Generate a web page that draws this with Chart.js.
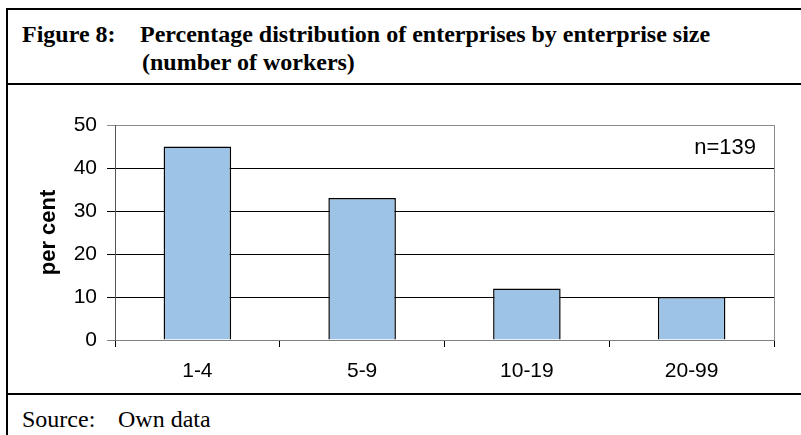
<!DOCTYPE html>
<html>
<head>
<meta charset="utf-8">
<script src="https://cdn.jsdelivr.net/npm/chart.js@4"></script>
<style>
  body { margin: 0; background: #fff; width: 801px; height: 435px; overflow: hidden; position: relative; }
  .rule { position: absolute; background: #000; }
  .serif { position: absolute; font-family: "Liberation Serif", "Times New Roman", serif; font-size: 24px; line-height: 30px; color: #000; white-space: nowrap; }
  .bold { font-weight: bold; }
  #chartBox { position: absolute; left: 8px; top: 85px; width: 793px; height: 308px; }
</style>
</head>
<body>
<div class="rule" style="left:6px;top:8px;width:795px;height:2px"></div>
<div class="rule" style="left:6px;top:8px;width:2px;height:427px"></div>
<div class="rule" style="left:6px;top:83px;width:795px;height:2px"></div>
<div class="rule" style="left:6px;top:393px;width:795px;height:2px"></div>

<div class="serif bold" style="left:22px;top:19px">Figure 8:</div>
<div class="serif bold" style="left:140px;top:19px">Percentage distribution of enterprises by enterprise size</div>
<div class="serif bold" style="left:142px;top:47px">(number of workers)</div>

<div class="serif" style="left:22px;top:404px">Source:</div>
<div class="serif" style="left:118px;top:404px">Own data</div>

<div id="chartBox"><canvas id="sizeChart" width="793" height="308"></canvas></div>

<script>
const categories = ['1-4', '5-9', '10-19', '20-99'];
const shares = [45, 33, 12, 10];
const yMax = 50;
const yStep = 10;
const sampleNote = 'n=139';

const sans = 'Liberation Sans, Arial, sans-serif';

// gray plot-area edge on the right, plus the sample size note
const frameAndNote = {
    id: 'frameAndNote',
    afterDraw(chart) {
        const { ctx, chartArea } = chart;
        ctx.save();
        ctx.strokeStyle = '#8c8c8c';
        ctx.lineWidth = 1;
        ctx.beginPath();
        ctx.moveTo(Math.round(chartArea.right) + 0.5, chartArea.top);
        ctx.lineTo(Math.round(chartArea.right) + 0.5, chartArea.bottom);
        ctx.stroke();
        ctx.fillStyle = '#000';
        ctx.font = '22px ' + sans;
        ctx.textAlign = 'right';
        ctx.textBaseline = 'middle';
        ctx.fillText(sampleNote, chartArea.right - 18, chartArea.top + 23);
        ctx.restore();
    }
};

const sizeCtx = document.getElementById('sizeChart').getContext('2d');
const sizeChart = new Chart(sizeCtx, {
    type: 'bar',
    data: {
        labels: categories,
        datasets: [{
            data: shares,
            backgroundColor: '#9dc3e6',
            borderColor: '#000',
            borderWidth: 1.5,
            barPercentage: 0.41,
            categoryPercentage: 1
        }]
    },
    options: {
        responsive: false,
        animation: false,
        layout: { padding: { left: 0, top: 40, right: 27, bottom: 0 } },
        plugins: {
            legend: { display: false },
            tooltip: { enabled: false }
        },
        scales: {
            x: {
                grid: { drawOnChartArea: false, drawTicks: true, tickLength: 7, color: '#000', offset: true },
                border: { color: '#808080', width: 1 },
                ticks: { color: '#000', font: { family: sans, size: 21 }, padding: 12 },
                afterFit: s => { s.height = 53; }
            },
            y: {
                min: 0,
                max: yMax,
                ticks: { stepSize: yStep, color: '#000', font: { family: sans, size: 21 }, padding: 10 },
                grid: {
                    tickLength: 8,
                    color: c => c.tick.value === yMax ? '#8c8c8c' : (c.tick.value === 0 ? '#808080' : '#000')
                },
                border: { color: '#555', width: 1 },
                title: {
                    display: true,
                    text: 'per cent',
                    color: '#000',
                    font: { family: sans, size: 22, weight: 'bold' },
                    padding: { top: 28, bottom: 0 }
                },
                afterFit: s => { s.width = 107; }
            }
        }
    },
    plugins: [frameAndNote]
});
</script>
</body>
</html>
